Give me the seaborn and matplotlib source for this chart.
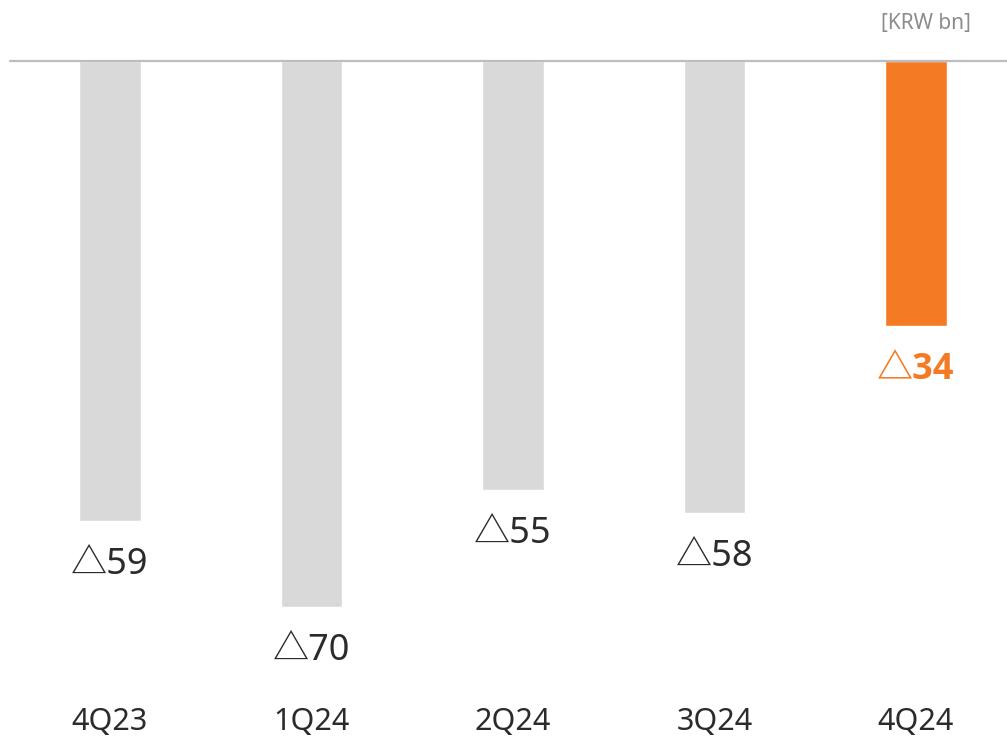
import matplotlib
matplotlib.use("Agg")
import matplotlib.pyplot as plt
import seaborn as sns
import pandas as pd

quarters = ["4Q23", "1Q24", "2Q24", "3Q24", "4Q24"]
values = [-59, -70, -55, -58, -34]
labels = ["△59", "△70", "△55", "△58", "△34"]
bar_colors = ["#D9D9D9", "#D9D9D9", "#D9D9D9", "#D9D9D9", "#F47A24"]
label_colors = ["#2B2B2B", "#2B2B2B", "#2B2B2B", "#2B2B2B", "#F47A24"]
label_bold = [False, False, False, False, True]
unit_label = "[KRW bn]"

sns.set_theme(style="white")
plt.rcParams['font.family'] = ['Noto Sans', 'Noto Sans CJK KR', 'DejaVu Sans']

W, H = 1007, 737
fig = plt.figure(figsize=(W / 100, H / 100), dpi=100)
top_px, bottom_px = 61, 700
ax = fig.add_axes([10 / W, 1 - bottom_px / H, (W - 10) / W, (bottom_px - top_px) / H])

df = pd.DataFrame({"q": quarters, "v": values})
sns.barplot(data=df, x="q", y="v", hue="q", palette=bar_colors, legend=False,
            width=0.303, ax=ax, saturation=1)

px_per_unit = 7.8
ax.set_ylim(-(bottom_px - top_px) / px_per_unit, 0)
ax.set_xlim(-100 / 201.5, (W - 10 - 100) / 201.5)

ax.axhline(0, color="#BDBDBD", lw=1.6, clip_on=False, zorder=5)

for i, (v, lab, c, b) in enumerate(zip(values, labels, label_colors, label_bold)):
    kw = {}
    if b:
        kw = dict(family=['Open Sans', 'Noto Sans CJK KR', 'DejaVu Sans'], fontweight='bold')
    ax.annotate(lab, xy=(i, v), xytext=(0, -44 * 0.72), textcoords="offset points",
                ha="center", va="center", fontsize=26, color=c, **kw)

for s in ax.spines.values():
    s.set_visible(False)
ax.set_yticks([])
ax.set_xlabel("")
ax.set_ylabel("")
ax.tick_params(axis="x", length=0, pad=5, labelsize=22, labelcolor="#2B2B2B")

fig.text(971 / W, 1 - 23 / H, unit_label, ha="right", va="center",
         fontsize=15, color="#8C8C8C")

fig.savefig("out.png", dpi=100, facecolor="white")
